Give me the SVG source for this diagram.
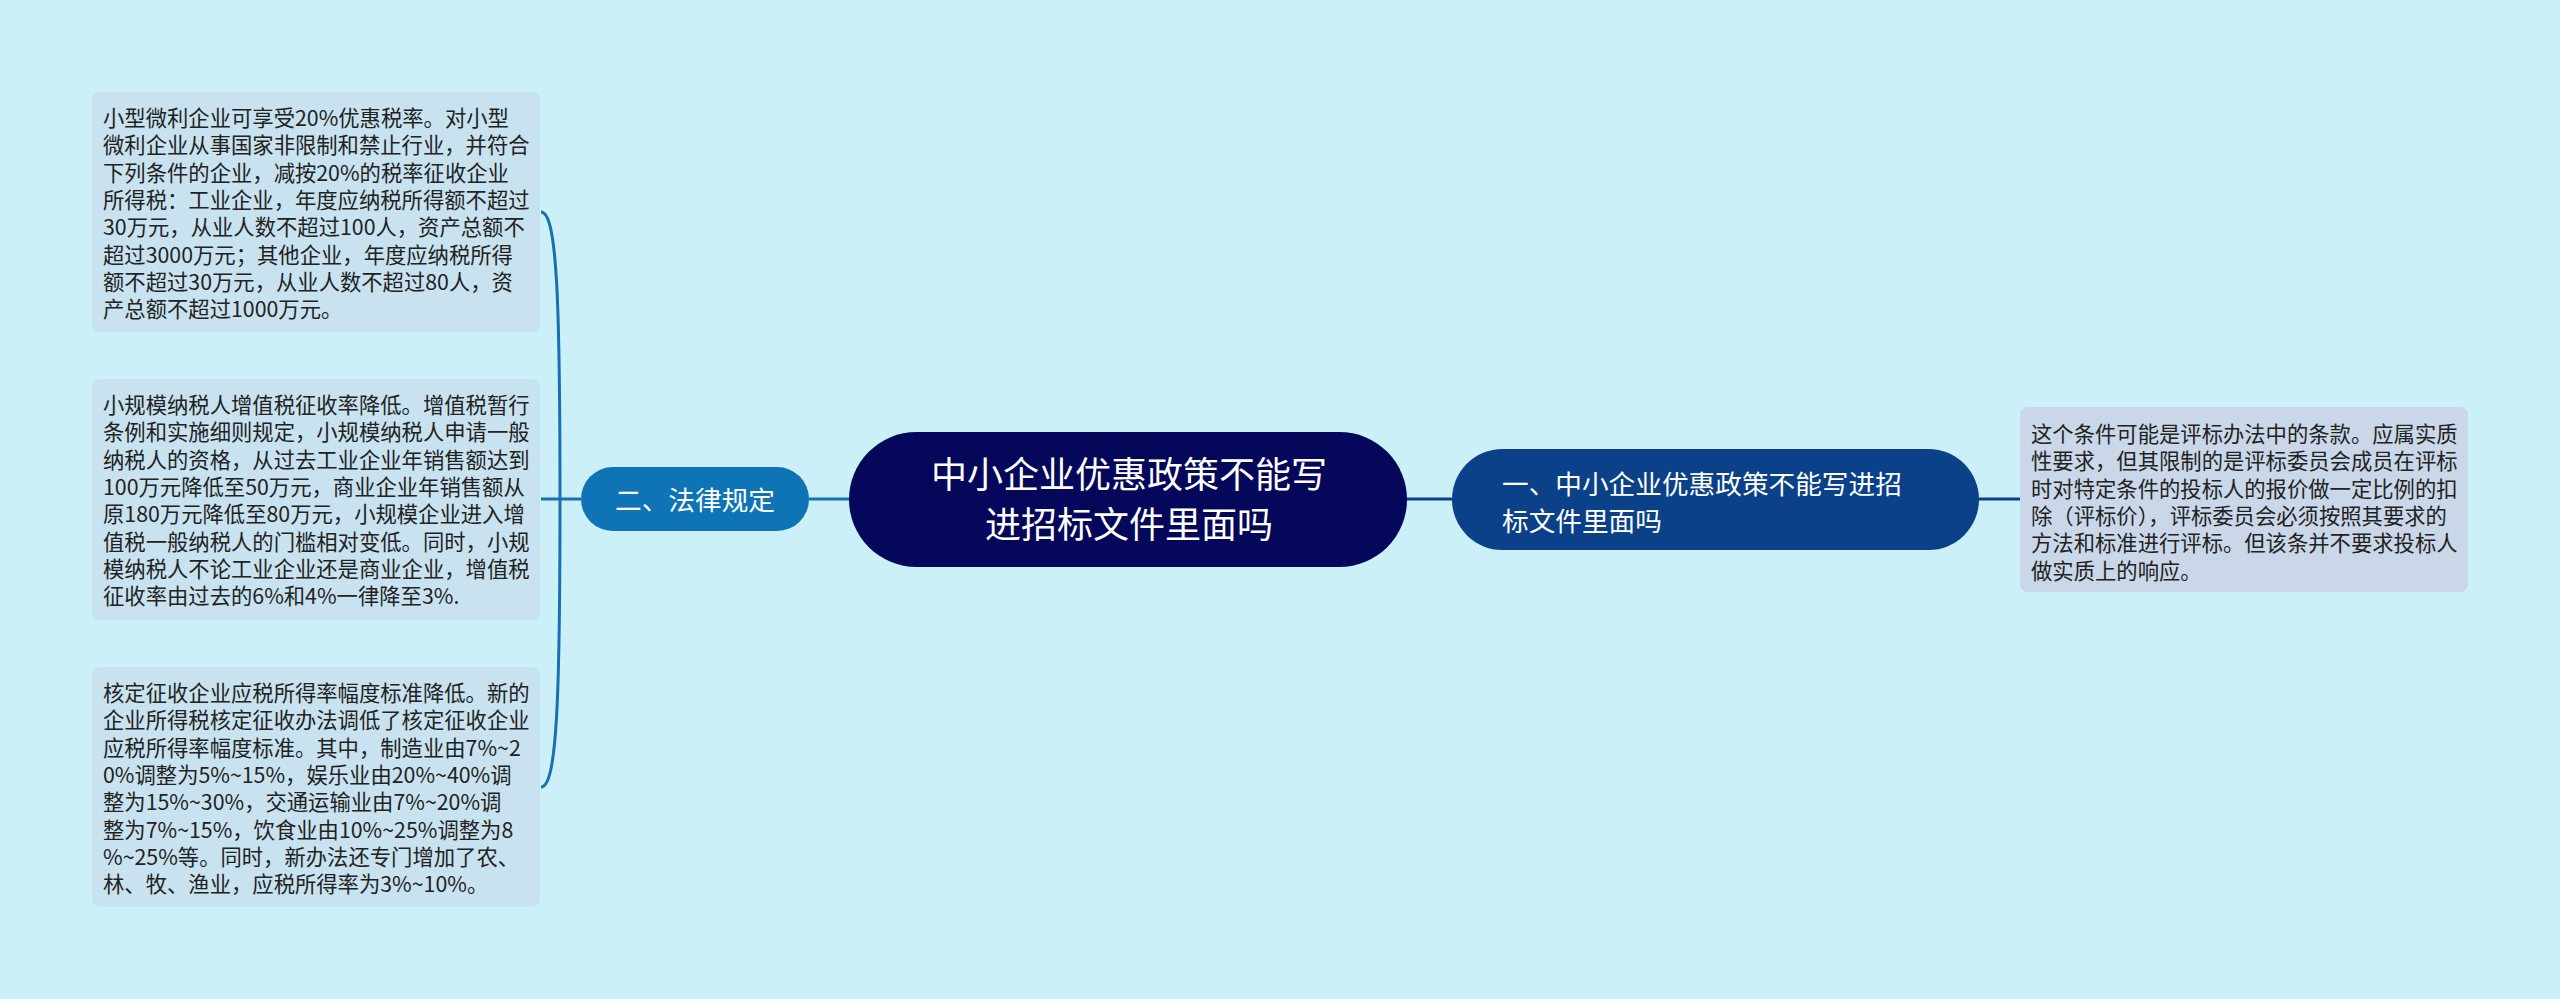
<svg xmlns="http://www.w3.org/2000/svg" width="2560" height="999" viewBox="0 0 2560 999">
<style>
.bg{fill:#CCF0F8}
.leafL{fill:#C8E2EF}
.leafR{fill:#CAD7E8}
.lt{font-family:"Noto Sans CJK SC","Noto Sans",sans-serif;font-size:21.33px;fill:#222}
.wt{font-family:"Noto Sans CJK SC","Noto Sans",sans-serif;fill:#fff}
.cl{fill:none;stroke:#1670B2;stroke-width:3}
.cr{fill:none;stroke:#0B3F87;stroke-width:3}
</style>
<rect class="bg" x="0" y="0" width="2560" height="999"/>
<g id="connectors">
<path class="cl" d="M541,212 C557,212 560,300 560,499 C560,698 557,787 541,787"/>
<path class="cl" d="M541,499 L581,499"/>
<path class="cl" d="M809,499 L850,499"/>
<path class="cr" d="M1407,499 L1452,499"/>
<path class="cr" d="M1979,499 L2020,499"/>
</g>
<g id="center">
<rect x="849" y="432" width="558" height="135" rx="67.5" fill="#05085A"/>
<text class="wt" font-size="36" text-anchor="middle" x="1129"><tspan x="1129" y="488">中小企业优惠政策不能写</tspan><tspan x="1129" y="538">进招标文件里面吗</tspan></text>
</g>
<g id="n-law">
<rect x="581" y="467" width="228" height="64" rx="32" fill="#0F74B5"/>
<text class="wt" font-size="26.67" text-anchor="middle" x="695" y="510">二、法律规定</text>
</g>
<g id="n-one">
<rect x="1452" y="449" width="527" height="101" rx="50.5" fill="#0B4189"/>
<text class="wt" font-size="26.67"><tspan x="1502" y="494">一、中小企业优惠政策不能写进招</tspan><tspan x="1502" y="531">标文件里面吗</tspan></text>
</g>
<g id="leaf-right">
<rect class="leafR" x="2020" y="407" width="448" height="185" rx="8"/>
<text class="lt"><tspan x="2031" y="442">这个条件可能是评标办法中的条款。应属实质</tspan><tspan x="2031" y="469.3">性要求，但其限制的是评标委员会成员在评标</tspan><tspan x="2031" y="496.6">时对特定条件的投标人的报价做一定比例的扣</tspan><tspan x="2031" y="523.9">除（评标价），评标委员会必须按照其要求的</tspan><tspan x="2031" y="551.2">方法和标准进行评标。但该条并不要求投标人</tspan><tspan x="2031" y="578.5">做实质上的响应。</tspan></text>
</g>
<g id="leaf-1">
<rect class="leafL" x="92" y="92" width="448" height="240" rx="8"/>
<text class="lt"><tspan x="103" y="126">小型微利企业可享受20%优惠税率。对小型</tspan><tspan x="103" y="153.3">微利企业从事国家非限制和禁止行业，并符合</tspan><tspan x="103" y="180.6">下列条件的企业，减按20%的税率征收企业</tspan><tspan x="103" y="207.9">所得税：工业企业，年度应纳税所得额不超过</tspan><tspan x="103" y="235.2">30万元，从业人数不超过100人，资产总额不</tspan><tspan x="103" y="262.5">超过3000万元；其他企业，年度应纳税所得</tspan><tspan x="103" y="289.8">额不超过30万元，从业人数不超过80人，资</tspan><tspan x="103" y="317.1">产总额不超过1000万元。</tspan></text>
</g>
<g id="leaf-2">
<rect class="leafL" x="92" y="379" width="448" height="241" rx="8"/>
<text class="lt"><tspan x="103" y="413">小规模纳税人增值税征收率降低。增值税暂行</tspan><tspan x="103" y="440.3">条例和实施细则规定，小规模纳税人申请一般</tspan><tspan x="103" y="467.6">纳税人的资格，从过去工业企业年销售额达到</tspan><tspan x="103" y="494.9">100万元降低至50万元，商业企业年销售额从</tspan><tspan x="103" y="522.2">原180万元降低至80万元，小规模企业进入增</tspan><tspan x="103" y="549.5">值税一般纳税人的门槛相对变低。同时，小规</tspan><tspan x="103" y="576.8">模纳税人不论工业企业还是商业企业，增值税</tspan><tspan x="103" y="604.1">征收率由过去的6%和4%一律降至3%.</tspan></text>
</g>
<g id="leaf-3">
<rect class="leafL" x="92" y="667" width="448" height="240" rx="8"/>
<text class="lt"><tspan x="103" y="701">核定征收企业应税所得率幅度标准降低。新的</tspan><tspan x="103" y="728.3">企业所得税核定征收办法调低了核定征收企业</tspan><tspan x="103" y="755.6">应税所得率幅度标准。其中，制造业由7%~2</tspan><tspan x="103" y="782.9">0%调整为5%~15%，娱乐业由20%~40%调</tspan><tspan x="103" y="810.2">整为15%~30%，交通运输业由7%~20%调</tspan><tspan x="103" y="837.5">整为7%~15%，饮食业由10%~25%调整为8</tspan><tspan x="103" y="864.8">%~25%等。同时，新办法还专门增加了农、</tspan><tspan x="103" y="892.1">林、牧、渔业，应税所得率为3%~10%。</tspan></text>
</g>
</svg>
